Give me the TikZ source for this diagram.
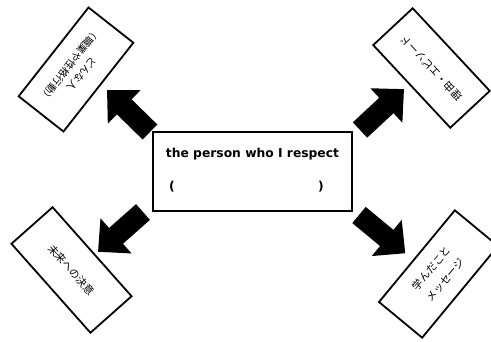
\documentclass[tikz,border=0pt]{standalone}
\usepackage{fontspec}
\setmainfont{DejaVu Sans}
\newfontfamily\jpfont{Noto Sans CJK JP}
\begin{document}
\begin{tikzpicture}[x=1pt,y=-1pt,
  card/.style={draw=black, fill=white, line width=1.8pt, inner sep=0pt,
    align=center, font=\jpfont\fontsize{10.5}{16}\selectfont},
  mainbox/.style={draw=black, fill=white, line width=1.8pt, inner sep=0pt},
  maintext/.style={font=\bfseries\fontsize{12.3}{14}\selectfont, inner sep=0pt},
  blockarrow/.pic={
    \fill[black] (0,-10.5) -- (36,-10.5) -- (36,-23.5) -- (60,0)
      -- (36,23.5) -- (36,10.5) -- (0,10.5) -- cycle;}
]
\useasboundingbox (0,0) rectangle (491,341);

% block arrows pointing out of the central box
\pic[rotate=135.7] (arrowTL) at (150,132) {blockarrow};
\pic[rotate=42.9]  (arrowTR) at (360,130) {blockarrow};
\pic[rotate=221.5] (arrowBL) at (143,212) {blockarrow};
\pic[rotate=-39.6] (arrowBR) at (359,215) {blockarrow};

% central box
\node[mainbox, minimum width=199pt, minimum height=79pt] (center) at (252.5,171.5) {};
\node[maintext, anchor=base] (title) at (252.5,157) {the person who I respect};
\node[maintext] (lpar) at (172,186.5) {(};
\node[maintext] (rpar) at (321,186.5) {)};

% surrounding cards
\node[card, rotate=231.8, minimum width=113pt, minimum height=57pt,
  font=\jpfont\fontsize{10}{15}\selectfont] (who) at (76,69.5)
  {どんな人\\（職業や性格行動）};
\node[card, rotate=133, minimum width=113pt, minimum height=54pt] (reason) at (431.5,68)
  {理由・エピソード};
\node[card, rotate=-48.4, minimum width=119pt, minimum height=55pt] (future) at (71.5,270)
  {未来への決意};
\node[card, rotate=50.4, minimum width=119pt, minimum height=56pt,
  font=\jpfont\fontsize{10.5}{18}\selectfont] (learned) at (438.5,274)
  {学んだこと\\メッセージ};
\end{tikzpicture}
\end{document}
